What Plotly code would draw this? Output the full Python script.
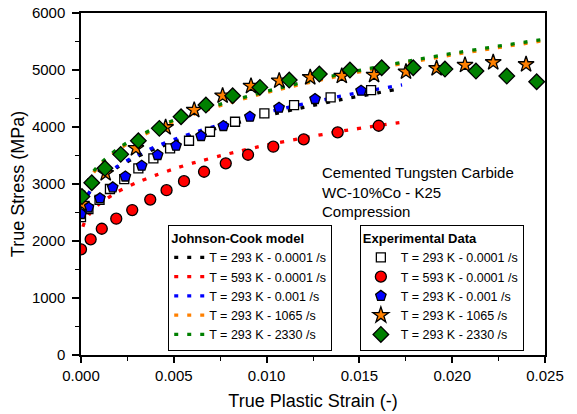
import plotly.graph_objects as go

# ---------------- data ----------------
# Johnson-Cook model curves
jc_strain_low = [0.0001, 0.0002, 0.0005, 0.001, 0.002, 0.003, 0.004, 0.005, 0.006,
                 0.008, 0.010, 0.012, 0.014, 0.016, 0.0173]
jc_293_00001 = [2600, 2700, 2880, 3060, 3300, 3475, 3620, 3740, 3850,
                4040, 4200, 4345, 4480, 4600, 4680]
jc_293_0001 = [2597, 2698, 2880, 3070, 3320, 3503, 3652, 3779, 3892,
               4089, 4257, 4406, 4540, 4665, 4739]
jc_red_strain = [0.0001, 0.0002, 0.0005, 0.001, 0.002, 0.003, 0.004, 0.005, 0.006,
                 0.008, 0.010, 0.012, 0.014, 0.016, 0.0175]
jc_593_00001 = [2250, 2336, 2491, 2654, 2867, 3024, 3151, 3265, 3365,
                3535, 3685, 3810, 3925, 4025, 4091]
jc_strain_high = [0.0001, 0.0003, 0.0006, 0.001, 0.002, 0.003, 0.004, 0.005, 0.006,
                  0.008, 0.010, 0.012, 0.014, 0.016, 0.018, 0.020, 0.022, 0.025]
jc_293_2330 = [2816, 3013, 3188, 3349, 3625, 3823, 3984, 4120, 4241,
               4449, 4628, 4785, 4927, 5057, 5177, 5290, 5394, 5542]
jc_293_1065 = [2790, 2988, 3163, 3324, 3600, 3798, 3959, 4095, 4216,
               4424, 4603, 4760, 4902, 5032, 5152, 5265, 5369, 5517]

# Experimental data
exp_sq_strain = [0.0, 0.0004, 0.0010, 0.00156, 0.00233, 0.00309, 0.0039, 0.0048, 0.00582,
                 0.00695, 0.0083, 0.00988, 0.01148, 0.01345, 0.01563]
exp_sq_stress = [2420, 2560, 2720, 2912, 3087, 3275, 3450, 3626, 3759,
                 3917, 4092, 4239, 4385, 4520, 4648]

exp_ci_strain = [0.0, 0.00052, 0.00112, 0.0019, 0.00276, 0.00373, 0.00461, 0.00555,
                 0.00663, 0.0078, 0.009, 0.01036, 0.012, 0.01383, 0.01604]
exp_ci_stress = [1854, 2029, 2215, 2391, 2543, 2727, 2891, 3049,
                 3215, 3362, 3513, 3654, 3783, 3906, 4022]

exp_pe_strain = [0.0, 0.0004, 0.00102, 0.00171, 0.00239, 0.00327, 0.00413, 0.00512,
                 0.00647, 0.00767, 0.0091, 0.01067, 0.01261, 0.01509]
exp_pe_stress = [2473, 2587, 2749, 2941, 3131, 3320, 3508, 3671,
                 3841, 4017, 4180, 4338, 4490, 4636]

exp_st_strain = [0.00003, 0.00133, 0.00296, 0.00456, 0.0061, 0.00763, 0.00916, 0.01068,
                 0.01235, 0.01405, 0.01579, 0.01751, 0.01916, 0.02069, 0.02221, 0.02398]
exp_st_stress = [2650, 3187, 3626, 3994, 4297, 4548, 4718, 4811,
                 4871, 4894, 4911, 4969, 5029, 5087, 5134, 5099]

exp_di_strain = [0.00005, 0.00058, 0.00129, 0.00214, 0.00309, 0.00422, 0.00539, 0.00673,
                 0.00817, 0.00964, 0.01122, 0.01284, 0.01449, 0.0162, 0.0179, 0.01961,
                 0.02128, 0.02294, 0.02455]
exp_di_stress = [2780, 3022, 3275, 3520, 3759, 3976, 4180, 4385,
                 4548, 4695, 4823, 4929, 4999, 5039, 5039, 5016,
                 4981, 4894, 4794]

labels = ["T = 293 K - 0.0001 /s", "T = 593 K - 0.0001 /s", "T = 293 K - 0.001 /s",
          "T = 293 K - 1065 /s", "T = 293 K - 2330 /s"]
colors = ["#000000", "#FF0000", "#0000FF", "#FF8000", "#008000"]

FONT = "Arial, Liberation Sans, sans-serif"
fig = go.Figure()

# JC model lines
jc_sets = [
    (jc_strain_low, jc_293_00001),
    (jc_red_strain, jc_593_00001),
    (jc_strain_low, jc_293_0001),
    (jc_strain_high, jc_293_1065),
    (jc_strain_high, jc_293_2330),
]
for (xs, ys), lab, col in zip(jc_sets, labels, colors):
    fig.add_trace(go.Scatter(
        x=xs, y=ys, mode="lines", name=lab, legend="legend",
        line=dict(color=col, width=3.3, dash="4px,9px", shape="spline", smoothing=0.6),
    ))

# Experimental points
exp_sets = [
    (exp_sq_strain, exp_sq_stress, "square", "white", 9),
    (exp_ci_strain, exp_ci_stress, "circle", "#FF0000", 11),
    (exp_pe_strain, exp_pe_stress, "pentagon", "#0000FF", 11),
    (exp_st_strain, exp_st_stress, "star", "#FF8000", 12),
    (exp_di_strain, exp_di_stress, "diamond", "#008000", 12),
]
for (xs, ys, sym, fill, sz), lab in zip(exp_sets, labels):
    fig.add_trace(go.Scatter(
        x=xs, y=ys, mode="markers", name=lab, legend="legend2",
        marker=dict(symbol=sym, size=sz, color=fill, line=dict(color="black", width=1.3)),
    ))

axis_common = dict(
    showgrid=False, zeroline=False, showline=True, linecolor="black", linewidth=1.5,
    mirror=True, ticks="outside", tickwidth=1.5, tickcolor="black",
    tickfont=dict(family=FONT, size=15, color="black"), automargin=False,
)

fig.update_layout(
    width=577, height=414,
    margin=dict(l=81, r=32, t=13, b=59),
    plot_bgcolor="white", paper_bgcolor="white",
    font=dict(family=FONT, color="black"),
    xaxis=dict(range=[0, 0.025], dtick=0.005, tick0=0, tickformat=".3f", ticklen=6,
               title=dict(text="True Plastic Strain (-)", font=dict(family=FONT, size=18), standoff=12),
               minor=dict(ticks="outside", ticklen=4, tickwidth=1.2, tickcolor="black", dtick=0.0025),
               **axis_common),
    yaxis=dict(range=[0, 6000], dtick=1000, tick0=0, ticklen=7, ticklabelstandoff=4,
               title=dict(text="True Stress (MPa)", font=dict(family=FONT, size=18), standoff=3),
               minor=dict(ticks="outside", ticklen=4, tickwidth=1.2, tickcolor="black", dtick=500),
               **axis_common),
    legend=dict(
        title=dict(text="<b>Johnson-Cook model</b>", font=dict(family=FONT, size=13)),
        x=0.188, y=0.012, xanchor="left", yanchor="bottom",
        bordercolor="black", borderwidth=1, bgcolor="white",
        font=dict(family=FONT, size=12.5), tracegroupgap=0,
    ),
    legend2=dict(
        title=dict(text="<b>Experimental Data</b>", font=dict(family=FONT, size=13)),
        x=0.601, y=0.012, xanchor="left", yanchor="bottom",
        bordercolor="black", borderwidth=1, bgcolor="white",
        font=dict(family=FONT, size=12.5), tracegroupgap=0,
    ),
    annotations=[dict(
        text="Cemented Tungsten Carbide<br>WC-10%Co - K25<br>Compression",
        xref="paper", yref="paper", x=0.515, y=0.565, xanchor="left", yanchor="top",
        align="left", showarrow=False, font=dict(family=FONT, size=15, color="black"),
    )],
)

fig.write_html("out.html")
